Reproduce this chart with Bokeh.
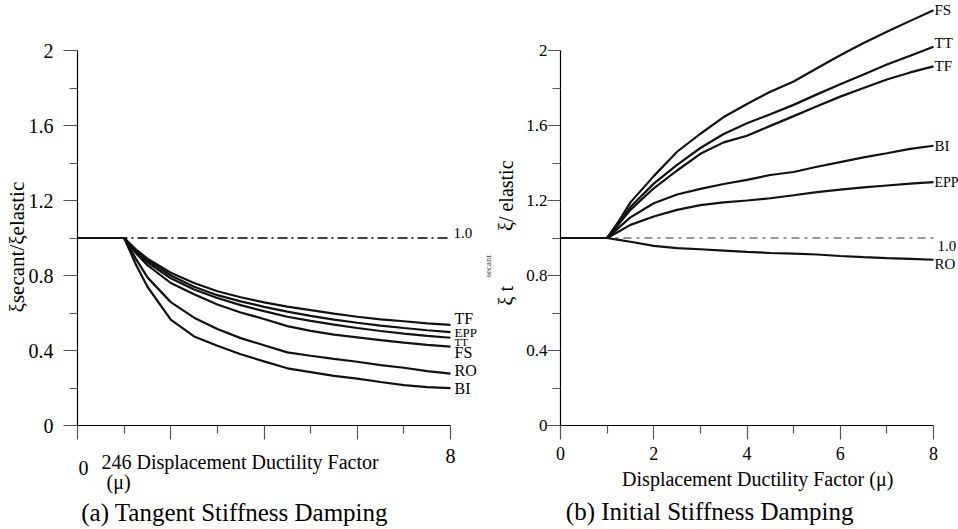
from bokeh.plotting import figure
from bokeh.layouts import row, column
from bokeh.models import Range1d, FixedTicker, CustomJSTickFormatter, Title
from bokeh.core.properties import value
from bokeh.embed import file_html
from bokeh.resources import INLINE

# ---------------- data ----------------
mu = [0, 1, 1.25, 1.5, 2, 2.5, 3, 3.5, 4, 4.5, 5, 5.5, 6, 6.5, 7, 7.5, 8]

# (a) Tangent stiffness damping
tf_a = [1, 1, 0.94, 0.89, 0.815, 0.76, 0.716, 0.684, 0.657, 0.634, 0.615, 0.597, 0.58, 0.566, 0.556, 0.545, 0.537]
epp_a = [1, 1, 0.935, 0.88, 0.80, 0.74, 0.695, 0.662, 0.633, 0.607, 0.585, 0.565, 0.548, 0.533, 0.52, 0.508, 0.498]
tt_a = [1, 1, 0.93, 0.87, 0.785, 0.725, 0.68, 0.642, 0.61, 0.58, 0.558, 0.538, 0.52, 0.504, 0.49, 0.478, 0.468]
fs_a = [1, 1, 0.92, 0.855, 0.76, 0.70, 0.645, 0.603, 0.568, 0.53, 0.505, 0.485, 0.47, 0.455, 0.442, 0.43, 0.421]
ro_a = [1, 1, 0.89, 0.79, 0.658, 0.575, 0.515, 0.466, 0.428, 0.39, 0.372, 0.355, 0.34, 0.322, 0.308, 0.29, 0.277]
bi_a = [1, 1, 0.86, 0.74, 0.565, 0.475, 0.425, 0.38, 0.342, 0.305, 0.285, 0.265, 0.25, 0.232, 0.215, 0.205, 0.199]

# (b) Initial stiffness damping
fs_b = [1, 1, 1.09, 1.19, 1.33, 1.46, 1.556, 1.645, 1.715, 1.78, 1.835, 1.905, 1.975, 2.04, 2.10, 2.158, 2.215]
tt_b = [1, 1, 1.08, 1.165, 1.29, 1.39, 1.48, 1.555, 1.612, 1.66, 1.71, 1.766, 1.82, 1.872, 1.925, 1.972, 2.02]
tf_b = [1, 1, 1.075, 1.15, 1.265, 1.36, 1.449, 1.51, 1.545, 1.598, 1.65, 1.703, 1.754, 1.80, 1.845, 1.883, 1.915]
bi_b = [1, 1, 1.055, 1.11, 1.185, 1.232, 1.262, 1.288, 1.31, 1.336, 1.352, 1.38, 1.405, 1.43, 1.452, 1.475, 1.492]
epp_b = [1, 1, 1.035, 1.07, 1.115, 1.15, 1.175, 1.19, 1.2, 1.212, 1.228, 1.245, 1.258, 1.27, 1.28, 1.29, 1.298]
ro_b = [1, 1, 0.99, 0.98, 0.958, 0.946, 0.94, 0.933, 0.926, 0.92, 0.917, 0.912, 0.904, 0.898, 0.893, 0.889, 0.884]

ref_x = [0, 8]
ref_y = [1.0, 1.0]
ref_label = "1.0"

x_ticks = [0, 2, 4, 6, 8]
x_minor = [1, 3, 5, 7]
y_ticks = [0, 0.4, 0.8, 1.2, 1.6, 2.0]
y_minor = [0.2, 0.6, 1.0, 1.4, 1.8]

series_a = [("TF", tf_a), ("EPP", epp_a), ("TT", tt_a), ("FS", fs_a), ("RO", ro_a), ("BI", bi_a)]
series_b = [("FS", fs_b), ("TT", tt_b), ("TF", tf_b), ("BI", bi_b), ("EPP", epp_b), ("RO", ro_b)]

# ---------------- layout constants ----------------
FONT = "Liberation Serif"
PX_X = 373 / 8.0        # px per ductility unit
PX_Y = 187.5            # px per damping-ratio unit
FRAME_H = 425
Y_TOP = FRAME_H / PX_Y
LINE_COLOR = "#111111"
W_LEFT, W_RIGHT = 479, 479
TOTAL_H = 529
NB = "\u00a0"


def make_fig(width, border_left, border_bottom):
    frame_w = width - border_left
    p = figure(width=width, height=FRAME_H + border_bottom,
               x_range=Range1d(0, frame_w / PX_X), y_range=Range1d(0, Y_TOP),
               output_backend="svg", toolbar_location=None,
               min_border_left=border_left, min_border_right=0,
               min_border_top=0, min_border_bottom=border_bottom)
    p.xgrid.visible = False
    p.ygrid.visible = False
    p.outline_line_color = None
    p.background_fill_color = "white"
    p.border_fill_color = "white"
    xa = p.xaxis[0]
    ya = p.yaxis[0]
    xa.ticker = FixedTicker(ticks=x_ticks, minor_ticks=x_minor)
    ya.ticker = FixedTicker(ticks=y_ticks, minor_ticks=y_minor)
    xa.bounds = (0, 8)
    ya.bounds = (0, 2)
    for ax in (xa, ya):
        ax.axis_line_color = "black"
        ax.axis_line_width = 1.2
        ax.major_tick_line_color = "#555555"
        ax.minor_tick_line_color = "#555555"
        ax.major_tick_line_width = 1.2
        ax.minor_tick_line_width = 1.2
        ax.major_tick_out = 14
        ax.major_tick_in = 0
        ax.minor_tick_out = 8
        ax.minor_tick_in = 0
        ax.major_label_text_font = FONT
        ax.major_label_text_color = "black"
        ax.axis_label_text_font = FONT
        ax.axis_label_text_font_style = "normal"
        ax.axis_label_text_color = "black"
        ax.formatter = CustomJSTickFormatter(code="return String(Math.round(tick*10)/10)")
    return p


def make_strip(panel, height, y_top_page):
    # text strip under a panel; its frame is aligned with the panel's frame
    p = figure(width=panel.width, height=height,
               x_range=panel.x_range,
               y_range=Range1d(y_top_page + height, y_top_page),
               x_axis_type=None, y_axis_type=None,
               output_backend="svg", toolbar_location=None,
               min_border_left=panel.min_border_left, min_border_right=0,
               min_border_top=0, min_border_bottom=0)
    p.outline_line_color = None
    p.background_fill_color = "white"
    p.border_fill_color = "white"
    return p


def txt(p, xs, ys, texts, size, align="left", x_offset=0, color="black"):
    p.text(x=xs, y=ys, text=texts, text_font=value(FONT), text_font_size=value(f"{size}px"),
           text_align=align, text_baseline="middle", x_offset=x_offset, text_color=color)


# ---------------- panel (a) ----------------
B1 = 16
p1 = make_fig(W_LEFT, 77, B1)
ya1 = p1.yaxis[0]
ya1.major_label_text_font_size = "20px"
ya1.major_label_standoff = 10
ya1.axis_label = "ξsecant/ξelastic" + NB * 13
ya1.axis_label_text_font_size = "21px"
ya1.axis_label_standoff = -3
xa1 = p1.xaxis[0]
xa1.formatter = CustomJSTickFormatter(code="return ''")
xa1.major_label_text_font_size = "1px"
xa1.major_label_standoff = 0

p1.line(ref_x, ref_y, line_color="black", line_width=1.3, line_dash="10 4 2 4")
for name, vals in series_a:
    p1.line(mu, vals, line_color=LINE_COLOR, line_width=2.2)

nudge_a = {"TF": 0.032, "EPP": 0.0, "TT": -0.021, "FS": -0.032, "RO": 0.016, "BI": 0.0}
size_a = {"TF": 16, "EPP": 13, "TT": 11, "FS": 16, "RO": 16, "BI": 16}
for name, vals in series_a:
    txt(p1, [mu[-1]], [vals[-1] + nudge_a[name]], [name], size_a[name], x_offset=4)
txt(p1, [ref_x[-1]], [ref_y[-1] + 0.027], [ref_label], 15, x_offset=3)

s1_top = FRAME_H + B1
s1 = make_strip(p1, TOTAL_H - s1_top, s1_top)
txt(s1, [x_ticks[0]], [467], ["0"], 20, align="left", x_offset=1)
txt(s1, [x_ticks[0]], [461], ["246 Displacement Ductility Factor"], 20, x_offset=24)
txt(s1, [x_ticks[0]], [481], ["(μ)"], 20, x_offset=29)
txt(s1, [x_ticks[-1]], [455], ["8"], 20, align="center")
txt(s1, [3.37], [512], ["(a) Tangent Stiffness Damping"], 25, align="center")

# ---------------- panel (b) ----------------
B2 = 44
p2 = make_fig(W_RIGHT, 81, B2)
ya2 = p2.yaxis[0]
ya2.major_label_text_font_size = "17px"
ya2.major_label_standoff = 0
ya2.major_tick_out = 13
ya2.axis_label = "ξ t" + NB * 11 + "ξ/ elastic" + NB * 8
ya2.axis_label_text_font_size = "20px"
ya2.axis_label_standoff = 6
xa2 = p2.xaxis[0]
xa2.major_label_text_font_size = "18px"
xa2.major_label_standoff = 7
p2.add_layout(Title(text="secant", text_font=FONT, text_font_size="9px",
                    text_font_style="normal", align="left", offset=148, standoff=0), "left")

p2.line(ref_x, ref_y, line_color="#777777", line_width=1.6, line_dash="8 5 3 5")
for name, vals in series_b:
    p2.line(mu, vals, line_color=LINE_COLOR, line_width=2.2)

nudge_b = {"FS": 0.0, "TT": 0.02, "TF": 0.0, "BI": 0.0, "EPP": 0.0, "RO": -0.02}
size_b = {"FS": 15, "TT": 15, "TF": 15, "BI": 15, "EPP": 14, "RO": 15}
for name, vals in series_b:
    txt(p2, [mu[-1]], [vals[-1] + nudge_b[name]], [name], size_b[name], x_offset=1)
txt(p2, [ref_x[-1]], [ref_y[-1] - 0.045], [ref_label], 15, x_offset=4)

s2_top = FRAME_H + B2
s2 = make_strip(p2, TOTAL_H - s2_top, s2_top)
txt(s2, [4.23], [478], ["Displacement Ductility Factor (μ)"], 20, align="center")
txt(s2, [3.2], [511], ["(b) Initial Stiffness Damping"], 25, align="center")

layout = row(column(p1, s1), column(p2, s2))
open("out.html", "w").write(file_html(layout, INLINE))
